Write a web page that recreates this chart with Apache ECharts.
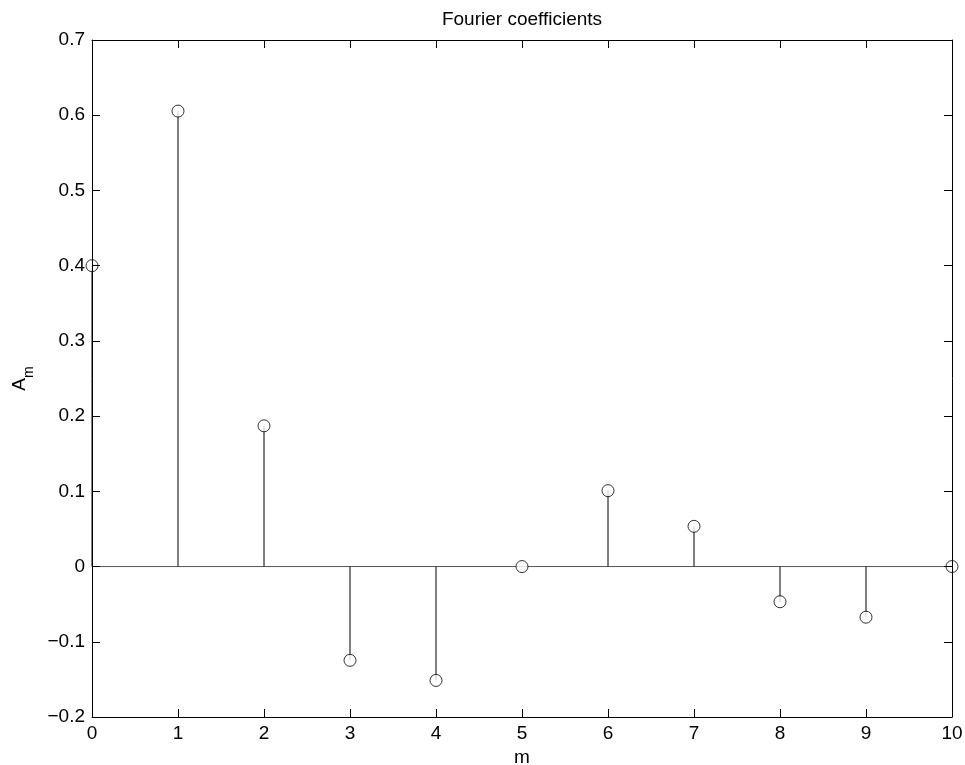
<!DOCTYPE html>
<html><head><meta charset="utf-8">
<script src="https://cdn.jsdelivr.net/npm/echarts@6/dist/echarts.min.js"></script>
<style>html,body{margin:0;padding:0;background:#fff}#c{width:965px;height:765px}</style>
</head><body><div id="c"></div>
<script>
const mValues = [0,1,2,3,4,5,6,7,8,9,10];
const amValues = [0.4, 0.6055, 0.1871, -0.1247, -0.1514, 0.0, 0.1009, 0.0535, -0.0468, -0.0673, 0.0];
const yTicks = [-0.2,-0.1,0,0.1,0.2,0.3,0.4,0.5,0.6,0.7];

const pts = mValues.map((m,i)=>[m, amValues[i]]);
const font = 'Liberation Sans, Arial, sans-serif';
const fs = 19;
const fmtY = v => { const s = (Math.round(v*10)/10).toString(); return s.replace('-', '\u2212'); };
const tickStyle = {inside:true, length:8, lineStyle:{color:'#000', width:1}};
const chart = echarts.init(document.getElementById('c'));
chart.setOption({
  animation:false,
  backgroundColor:'#fff',
  title:{text:'Fourier coefficients', left:517, top:5, textAlign:'center',
    textStyle:{fontFamily:font, fontSize:fs, fontWeight:'normal', color:'#000'}},
  grid:{left:92, right:13, top:40, bottom:48, show:false,
        containLabel:false, outerBoundsMode:'none'},
  xAxis:[
    {type:'value', min:0, max:10, interval:1, position:'bottom', z:10,
     axisLine:{show:true, onZero:false, lineStyle:{color:'#000'}}, axisTick:tickStyle, splitLine:{show:false},
     axisLabel:{color:'#000', fontFamily:font, fontSize:fs, margin:7},
     name:'m', nameLocation:'middle', nameGap:28,
     nameTextStyle:{color:'#000', fontFamily:font, fontSize:fs}},
    {type:'value', min:0, max:10, interval:1, position:'top', z:10,
     axisLine:{show:true, onZero:false, lineStyle:{color:'#000'}}, axisTick:tickStyle, splitLine:{show:false},
     axisLabel:{show:false}}
  ],
  yAxis:[
    {type:'value', min:-0.2, max:0.7, interval:0.1, position:'left', z:10,
     axisLine:{show:true, onZero:false, lineStyle:{color:'#000'}}, axisTick:tickStyle, splitLine:{show:false},
     axisLabel:{color:'#000', fontFamily:font, fontSize:fs, margin:7, formatter:fmtY},
     name:'{a|A}{s|m}', nameLocation:'middle', nameGap:56, nameRotate:90,
     nameTextStyle:{color:'#000', fontFamily:font, fontSize:fs,
       rich:{a:{fontFamily:font, fontSize:fs, color:'#000'}, s:{fontFamily:font, fontSize:14, color:'#000', padding:[18,0,0,0]}}}},
    {type:'value', min:-0.2, max:0.7, interval:0.1, position:'right', z:10,
     axisLine:{show:true, onZero:false, lineStyle:{color:'#000'}}, axisTick:tickStyle, splitLine:{show:false},
     axisLabel:{show:false}}
  ],
  series:[
    {type:'line', data:[[0,0],[10,0]], symbol:'none', lineStyle:{color:'#555', width:1}, silent:true, z:1},
    {type:'custom', z:2,
     renderItem:function(params, api){
       const p0 = api.coord([api.value(0), 0]);
       const p1 = api.coord([api.value(0), api.value(1)]);
       return {type:'line', shape:{x1:p0[0], y1:p0[1], x2:p1[0], y2:p1[1]}, style:{stroke:'#000', lineWidth:1}};
     },
     data:pts},
    {type:'scatter', data:pts, symbol:'circle', symbolSize:12, z:3,
     itemStyle:{color:'#fff', borderColor:'#000', borderWidth:1}}
  ]
});
</script></body></html>
